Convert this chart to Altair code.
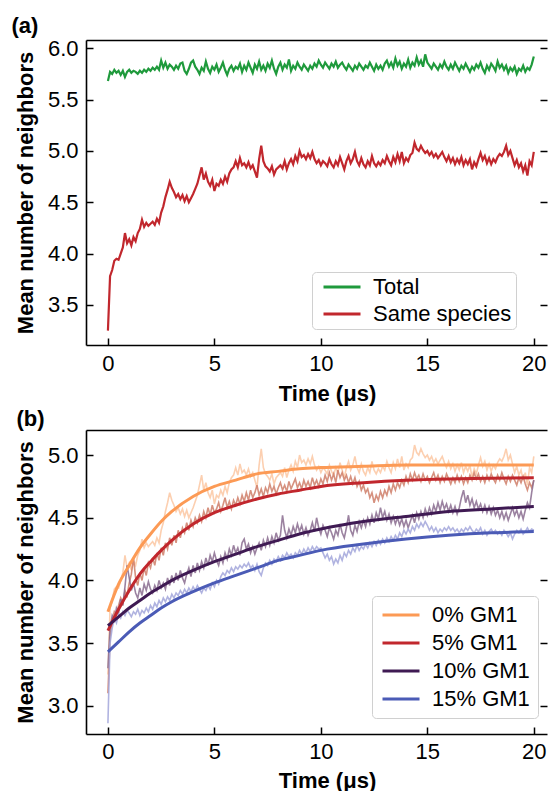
import altair as alt
import pandas as pd

FONT = "Liberation Sans"

# sample times (0 to 20 us, every 0.1 us)
time = [round(0.1 * i, 1) for i in range(201)]

total = [5.68, 5.77, 5.75, 5.79, 5.76, 5.78, 5.74, 5.78, 5.72, 5.77, 5.79,
 5.76, 5.78, 5.77, 5.75, 5.78, 5.76, 5.79, 5.77, 5.80, 5.78,
 5.81, 5.79, 5.82, 5.79, 5.88, 5.81, 5.86, 5.80, 5.84, 5.82,
 5.79, 5.83, 5.80, 5.85, 5.86, 5.78, 5.75, 5.80, 5.86, 5.88,
 5.82, 5.79, 5.75, 5.81, 5.78, 5.87, 5.80, 5.76, 5.82, 5.79,
 5.84, 5.77, 5.81, 5.86, 5.79, 5.74, 5.80, 5.83, 5.78, 5.82,
 5.80, 5.85, 5.77, 5.83, 5.79, 5.86, 5.81, 5.76, 5.84, 5.80,
 5.87, 5.79, 5.83, 5.78, 5.85, 5.81, 5.88, 5.80, 5.75, 5.82,
 5.86, 5.79, 5.84, 5.81, 5.89, 5.78, 5.83, 5.80, 5.86, 5.82,
 5.79, 5.84, 5.81, 5.78, 5.83, 5.80, 5.85, 5.82, 5.88, 5.84,
 5.81, 5.86, 5.83, 5.80, 5.85, 5.82, 5.87, 5.81, 5.84, 5.86,
 5.82, 5.79, 5.84, 5.81, 5.78, 5.83, 5.80, 5.85, 5.82, 5.79,
 5.83, 5.81, 5.86, 5.82, 5.78, 5.84, 5.80, 5.83, 5.79, 5.85,
 5.88, 5.82, 5.86, 5.81, 5.90, 5.83, 5.87, 5.80, 5.85, 5.82,
 5.89, 5.81, 5.86, 5.83, 5.91, 5.84, 5.88, 5.82, 5.94, 5.86,
 5.83, 5.80, 5.85, 5.82, 5.79, 5.84, 5.81, 5.87, 5.82, 5.79,
 5.84, 5.80, 5.86, 5.82, 5.78, 5.83, 5.80, 5.85, 5.81, 5.77,
 5.82, 5.79, 5.84, 5.81, 5.86, 5.80, 5.76, 5.83, 5.79, 5.85,
 5.82, 5.78, 5.87, 5.81, 5.84, 5.79, 5.83, 5.76, 5.81, 5.78,
 5.82, 5.75, 5.80, 5.78, 5.83, 5.77, 5.81, 5.79, 5.84, 5.92]

same_species = [3.25, 3.78, 3.84, 3.93, 3.95, 3.94, 4.00, 4.06, 4.20, 4.10, 4.14,
 4.08, 4.16, 4.12, 4.20, 4.24, 4.33, 4.26, 4.30, 4.27, 4.29,
 4.31, 4.28, 4.34, 4.30, 4.40, 4.46, 4.55, 4.62, 4.70, 4.64,
 4.60, 4.55, 4.58, 4.53, 4.57, 4.51, 4.56, 4.50, 4.54, 4.58,
 4.63, 4.68, 4.76, 4.84, 4.72, 4.78, 4.70, 4.66, 4.72, 4.61,
 4.68, 4.66, 4.72, 4.68, 4.75, 4.70, 4.78, 4.82, 4.84, 4.90,
 4.84, 4.93, 4.86, 4.88, 4.84, 4.89, 4.83, 4.86, 4.80, 4.74,
 4.92, 5.05, 4.90, 4.85, 4.83, 4.80, 4.85, 4.77, 4.82, 4.84,
 4.86, 4.83, 4.90, 4.82, 4.88, 4.92, 4.87, 4.95, 4.90, 5.00,
 4.94, 4.96, 4.92, 4.97, 4.93, 4.99, 4.92, 4.88, 4.91, 4.86,
 4.90, 4.88, 4.85, 4.92, 4.87, 4.84, 4.90, 4.86, 4.94, 4.88,
 4.82, 4.90, 4.95, 4.88, 4.92, 4.99, 4.90, 4.86, 4.93, 4.87,
 4.84, 4.90, 4.86, 4.95, 4.88, 4.85, 4.89, 4.86, 4.91, 4.88,
 4.95, 4.90, 4.86, 4.94, 4.89, 4.97, 4.90, 4.99, 4.88, 4.93,
 4.90, 4.96, 4.98, 5.08, 5.02, 5.00, 5.05, 5.01, 4.98, 5.00,
 4.96, 4.99, 4.94, 4.97, 4.93, 4.96, 4.99, 4.94, 4.90, 4.95,
 4.89, 4.93, 4.87, 4.92, 4.88, 4.94, 4.86, 4.91, 4.87, 4.92,
 4.82, 4.89, 4.85, 4.92, 4.98, 4.91, 4.95, 4.88, 4.93, 4.87,
 4.92, 4.89, 4.94, 4.97, 4.95, 4.99, 5.05, 4.96, 5.00, 4.93,
 4.86, 4.91, 4.84, 4.88, 4.80, 4.86, 4.76, 4.90, 4.86, 4.99]

gm5_raw = [3.10, 3.55, 3.68, 3.75, 3.72, 3.80, 3.86, 3.82, 3.92, 3.88, 3.98,
 4.05, 4.18, 4.02, 3.96, 4.06, 4.00, 4.10, 4.04, 4.14, 4.10,
 4.18, 4.12, 4.22, 4.16, 4.26, 4.20, 4.30, 4.25, 4.34, 4.28,
 4.36, 4.30, 4.40, 4.34, 4.42, 4.38, 4.46, 4.40, 4.48, 4.43,
 4.50, 4.46, 4.52, 4.47, 4.55, 4.50, 4.58, 4.52, 4.60, 4.54,
 4.57, 4.62, 4.55, 4.60, 4.66, 4.58, 4.63, 4.57, 4.64, 4.60,
 4.66, 4.61, 4.68, 4.63, 4.70, 4.64, 4.72, 4.66, 4.70, 4.76,
 4.68, 4.73, 4.67, 4.74, 4.70, 4.77, 4.71, 4.75, 4.69, 4.74,
 4.78, 4.72, 4.76, 4.71, 4.79, 4.73, 4.77, 4.81, 4.74, 4.78,
 4.73, 4.80, 4.75, 4.79, 4.74, 4.82, 4.76, 4.80, 4.75, 4.81,
 4.77, 4.84, 4.79, 4.86, 4.80, 4.85, 4.78, 4.88, 4.82, 4.86,
 4.80, 4.84, 4.78, 4.83, 4.77, 4.82, 4.75, 4.79, 4.72, 4.76,
 4.70, 4.73, 4.66, 4.70, 4.62, 4.68, 4.64, 4.71, 4.66, 4.72,
 4.68, 4.75, 4.70, 4.77, 4.72, 4.78, 4.74, 4.80, 4.76, 4.83,
 4.78, 4.85, 4.80, 4.86, 4.81, 4.84, 4.79, 4.85, 4.80, 4.83,
 4.78, 4.82, 4.86, 4.80, 4.84, 4.78, 4.83, 4.79, 4.85, 4.81,
 4.77, 4.82, 4.78, 4.84, 4.79, 4.83, 4.77, 4.82, 4.78, 4.84,
 4.80, 4.86, 4.81, 4.85, 4.79, 4.83, 4.78, 4.84, 4.80, 4.85,
 4.81, 4.78, 4.84, 4.80, 4.86, 4.81, 4.77, 4.83, 4.79, 4.84,
 4.80, 4.76, 4.82, 4.78, 4.83, 4.77, 4.72, 4.78, 4.74, 4.80]

gm10_raw = [3.30, 3.62, 3.72, 3.68, 3.78, 3.74, 3.85, 3.80, 3.95, 4.12, 4.02,
 3.92, 3.98, 3.90, 3.86, 3.94, 3.88, 3.97, 3.92, 3.99, 3.93,
 3.90, 3.96, 3.92, 4.00, 3.94, 3.98, 3.93, 4.02, 3.96, 4.04,
 3.98, 4.06, 4.00, 4.08, 4.02, 3.98, 4.05, 4.10, 4.03, 4.12,
 4.06, 4.14, 4.08, 4.15, 4.10, 4.18, 4.12, 4.20, 4.15, 4.22,
 4.16, 4.12, 4.19, 4.14, 4.22, 4.17, 4.25, 4.20, 4.28, 4.22,
 4.26, 4.20, 4.30, 4.33, 4.25, 4.29, 4.22, 4.27, 4.21, 4.26,
 4.30, 4.24, 4.32, 4.27, 4.34, 4.28, 4.35, 4.30, 4.38, 4.32,
 4.36, 4.52, 4.40, 4.34, 4.41, 4.36, 4.43, 4.38, 4.45, 4.39,
 4.44, 4.37, 4.42, 4.36, 4.40, 4.46, 4.39, 4.50, 4.42, 4.37,
 4.44, 4.40, 4.35, 4.42, 4.38, 4.33, 4.40, 4.36, 4.45, 4.38,
 4.34, 4.42, 4.52, 4.40, 4.36, 4.44, 4.39, 4.47, 4.42, 4.48,
 4.43, 4.50, 4.45, 4.52, 4.46, 4.54, 4.49, 4.58, 4.50, 4.55,
 4.48, 4.53, 4.46, 4.51, 4.45, 4.50, 4.44, 4.49, 4.43, 4.48,
 4.42, 4.47, 4.52, 4.46, 4.54, 4.49, 4.55, 4.50, 4.57, 4.52,
 4.58, 4.53, 4.60, 4.55, 4.62, 4.56, 4.63, 4.57, 4.61, 4.55,
 4.60, 4.54, 4.59, 4.53, 4.58, 4.66, 4.72, 4.62, 4.68, 4.60,
 4.65, 4.58, 4.63, 4.57, 4.61, 4.55, 4.60, 4.54, 4.59, 4.53,
 4.58, 4.52, 4.56, 4.50, 4.55, 4.49, 4.54, 4.48, 4.53, 4.58,
 4.52, 4.56, 4.50, 4.55, 4.49, 4.56, 4.62, 4.58, 4.70, 4.80]

gm15_raw = [2.86, 3.50, 3.62, 3.70, 3.66, 3.73, 3.70, 3.75, 3.72, 3.76, 3.74,
 3.71, 3.75, 3.73, 3.77, 3.72, 3.76, 3.74, 3.78, 3.75, 3.80,
 3.77, 3.82, 3.79, 3.84, 3.81, 3.86, 3.83, 3.87, 3.84, 3.89,
 3.86, 3.90, 3.88, 3.92, 3.89, 3.93, 3.90, 3.94, 3.91, 3.95,
 3.92, 3.96, 3.93, 3.90, 3.94, 3.92, 3.96, 3.93, 3.98, 3.95,
 4.00, 3.97, 4.03, 4.06, 4.04, 4.08, 4.06, 4.10, 4.07, 4.11,
 4.09, 4.12, 4.10, 4.13, 4.11, 4.14, 4.10, 4.12, 4.08, 4.13,
 4.07, 4.04, 4.10, 4.14, 4.12, 4.16, 4.13, 4.17, 4.15, 4.19,
 4.16, 4.20, 4.18, 4.22, 4.19, 4.21, 4.18, 4.22, 4.20, 4.24,
 4.21, 4.25, 4.22, 4.26, 4.23, 4.27, 4.24, 4.27, 4.25, 4.26,
 4.22, 4.18, 4.21, 4.16, 4.19, 4.13, 4.17, 4.14, 4.20, 4.16,
 4.22, 4.19, 4.24, 4.21, 4.26, 4.23, 4.28, 4.24, 4.27, 4.25,
 4.29, 4.26, 4.30, 4.27, 4.31, 4.28, 4.32, 4.29, 4.33, 4.30,
 4.34, 4.31, 4.35, 4.32, 4.36, 4.33, 4.38, 4.35, 4.40, 4.37,
 4.41, 4.38, 4.43, 4.40, 4.45, 4.42, 4.46, 4.43, 4.47, 4.44,
 4.40, 4.43, 4.39, 4.42, 4.38, 4.41, 4.39, 4.42, 4.40, 4.43,
 4.40, 4.42, 4.39, 4.41, 4.38, 4.41, 4.39, 4.42, 4.40, 4.43,
 4.40, 4.38, 4.41, 4.39, 4.42, 4.37, 4.40, 4.36, 4.39, 4.41,
 4.38, 4.40, 4.37, 4.39, 4.36, 4.40, 4.38, 4.35, 4.38, 4.33,
 4.37, 4.40, 4.38, 4.41, 4.37, 4.39, 4.42, 4.39, 4.41, 4.40]

# fitted curves, read at these times
fit_time = [0, 0.5, 1, 1.5, 2, 2.5, 3, 4, 5, 6, 7, 8, 9, 10, 12, 14, 16, 18, 20]
fit0 = [3.75, 3.97, 4.12, 4.26, 4.37, 4.47, 4.55, 4.67, 4.75, 4.80, 4.85, 4.87, 4.89, 4.90, 4.91, 4.92, 4.92, 4.92, 4.92]
fit5 = [3.60, 3.77, 3.92, 4.05, 4.15, 4.24, 4.32, 4.45, 4.54, 4.60, 4.65, 4.69, 4.72, 4.75, 4.78, 4.80, 4.81, 4.815, 4.82]
fit10 = [3.64, 3.71, 3.78, 3.84, 3.90, 3.95, 4.00, 4.08, 4.15, 4.21, 4.27, 4.32, 4.37, 4.41, 4.47, 4.51, 4.55, 4.57, 4.59]
fit15 = [3.43, 3.51, 3.59, 3.66, 3.72, 3.78, 3.83, 3.91, 3.98, 4.04, 4.10, 4.16, 4.20, 4.24, 4.29, 4.33, 4.36, 4.38, 4.39]

series_a = ["Total", "Same species"]
colors_a = ["#1f9a3c", "#c1272d"]
series_b = ["0% GM1", "5% GM1", "10% GM1", "15% GM1"]
colors_b = ["#fc9a55", "#c1272d", "#3f1a53", "#4b5bb6"]
raw_colors_b = ["#fcc7a2", "#cf7e68", "#8a6c8f", "#a2a6da"]

x_ticks = [0, 5, 10, 15, 20]
ya_ticks = [3.5, 4.0, 4.5, 5.0, 5.5, 6.0]
yb_ticks = [3.0, 3.5, 4.0, 4.5, 5.0]

df_a = pd.concat([
    pd.DataFrame({"time": time, "value": total, "kind": series_a[0]}),
    pd.DataFrame({"time": time, "value": same_species, "kind": series_a[1]}),
])
raw_frames = [
    pd.DataFrame({"time": time, "value": v, "gm1": s})
    for s, v in zip(series_b, [same_species, gm5_raw, gm10_raw, gm15_raw])
]
df_fit = pd.concat([
    pd.DataFrame({"time": fit_time, "value": v, "gm1": s})
    for s, v in zip(series_b, [fit0, fit5, fit10, fit15])
])

TICK = 7
X_DOMAIN = [-1.03, 20.62]
PLOT_W = 461


def make_legend(lx, ly, pad, row_pad, sym_off):
    return alt.Legend(title=None, orient="none", legendX=lx, legendY=ly,
                      symbolType="stroke", symbolSize=1369, symbolStrokeWidth=3,
                      symbolOpacity=1, symbolOffset=sym_off, clipHeight=22,
                      labelFont=FONT, labelFontSize=22, labelColor="black",
                      labelOffset=11, rowPadding=row_pad, padding=pad,
                      strokeColor="#d0d0d0", fillColor="white", cornerRadius=4)


def panel(layers_data, field, ydom, yticks, height, label, label_dx, lp, tp):
    xs = alt.Scale(domain=X_DOMAIN, nice=False, zero=False)
    ys = alt.Scale(domain=ydom, nice=False, zero=False)
    x_main = alt.X("time:Q", scale=xs, title="Time (μs)",
                   axis=alt.Axis(values=x_ticks, format="d", orient="bottom",
                                 ticks=False, tickSize=0, labelPadding=lp,
                                 titlePadding=tp, titleX=241))
    y_main = alt.Y("value:Q", scale=ys, title="Mean number of neighbors",
                   axis=alt.Axis(values=yticks, format=".1f", orient="left",
                                 ticks=False, tickSize=0, labelPadding=8,
                                 titlePadding=10))
    x_in = alt.X("time:Q", scale=xs, title=None,
                 axis=alt.Axis(values=x_ticks, orient="bottom", offset=-TICK,
                               tickSize=TICK, labels=False, domain=False))
    y_in = alt.Y("value:Q", scale=ys, title=None,
                 axis=alt.Axis(values=yticks, orient="left", offset=-TICK,
                               tickSize=TICK, labels=False, domain=False))
    x_top = alt.X("time:Q", scale=xs, title=None,
                  axis=alt.Axis(orient="top", ticks=False, labels=False, domain=True))
    y_right = alt.Y("value:Q", scale=ys, title=None,
                    axis=alt.Axis(values=yticks, orient="right", offset=-TICK,
                                  tickSize=TICK, labels=False, domain=False))
    base_df = layers_data[0][0]
    visible = []
    for i, (df, mark, color) in enumerate(layers_data):
        if i == 0:
            enc = dict(x=x_main, y=y_main)
        else:
            enc = dict(x=alt.X("time:Q", scale=xs, axis=None),
                       y=alt.Y("value:Q", scale=ys, axis=None))
        if color is not None:
            enc["color"] = color
        visible.append(mark.encode(**enc).properties(data=df))
    ticks_layer = alt.Chart(base_df).mark_line(opacity=0).encode(
        x=x_in, y=y_in, detail=f"{field}:N")
    frame_layer = alt.Chart(base_df).mark_line(opacity=0).encode(
        x=x_top, y=y_right, detail=f"{field}:N")
    return alt.layer(*visible, ticks_layer, frame_layer).resolve_axis(
        x="independent", y="independent"
    ).properties(
        width=PLOT_W, height=height,
        title=alt.TitleParams(label, anchor="start", frame="bounds", dx=label_dx,
                              offset=-1, fontSize=22, fontWeight="bold",
                              font=FONT, color="black"),
    )


color_a = alt.Color("kind:N", scale=alt.Scale(domain=series_a, range=colors_a),
                    legend=make_legend(226, 232, 4, 5, 6))
color_b = alt.Color("gm1:N", scale=alt.Scale(domain=series_b, range=colors_b),
                    legend=make_legend(286, 166, 8, 6, 1))

panel_a = panel(
    [(df_a, alt.Chart().mark_line(strokeWidth=2.2), color_a)], "kind",
    [3.11, 6.08], ya_ticks, 305, "(a)", -3, 8, 9)

raw_layers = [
    (frame, alt.Chart().mark_line(strokeWidth=1.6, color=c, opacity=0.85), None)
    for frame, c in zip(raw_frames, raw_colors_b)
]
panel_b = panel(
    raw_layers + [(df_fit, alt.Chart().mark_line(strokeWidth=3, interpolate="monotone"), color_b)],
    "gm1", [2.775, 5.20], yb_ticks, 304, "(b)", 2, 7, 8)

chart = alt.vconcat(panel_a, panel_b, spacing=4).resolve_scale(
    color="independent"
).properties(
    padding={"left": 3, "top": 7, "right": 0, "bottom": 0}
).configure_view(stroke=None).configure_axis(
    labelFont=FONT, labelFontSize=22, labelColor="black",
    titleFont=FONT, titleFontSize=22, titleFontWeight="bold", titleColor="black",
    domainColor="black", domainWidth=1.6, tickColor="black", tickWidth=1.5,
    grid=False,
)

chart.save("out.html", embed_options={"renderer": "svg", "actions": False})
